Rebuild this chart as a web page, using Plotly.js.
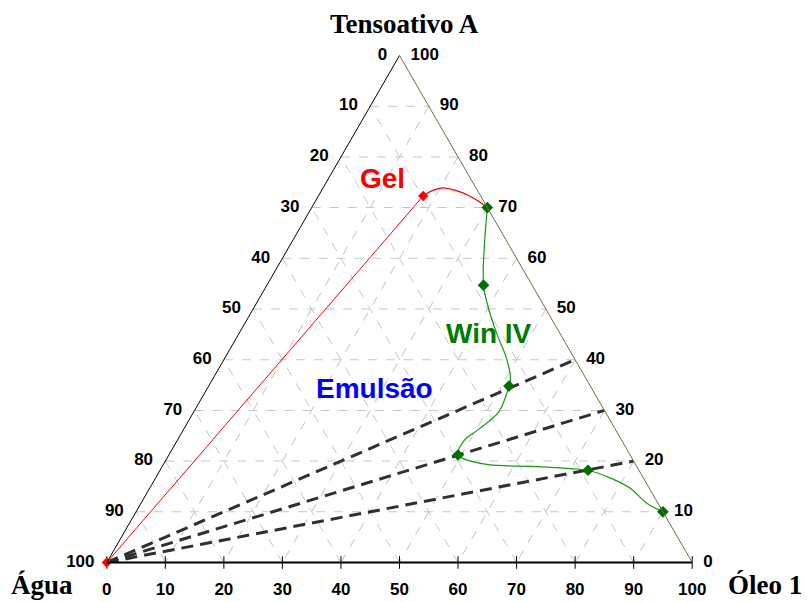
<!DOCTYPE html>
<html>
<head>
<meta charset="utf-8">
<script src="https://cdn.plot.ly/plotly-3.0.1.min.js"></script>
<style>html,body{margin:0;padding:0;background:#fff;}#chart{width:807px;height:602px;}</style>
</head>
<body>
<div id="chart"></div>
<script>
// ---- data (percent) ----
const cornerTitles = ['Tensoativo A', 'Água', 'Óleo 1'];
const tickVals = [0, 10, 20, 30, 40, 50, 60, 70, 80, 90, 100];
const tickLabels = ['0', '10', '20', '30', '40', '50', '60', '70', '80', '90', '100'];

// dashed lines from the water corner to the oil/surfactant side
const tieTensoativo = [[0, 40], [0, 30], [0, 20]];
const tieAgua = [[100, 0], [100, 0], [100, 0]];
const tieOleo = [[0, 60], [0, 70], [0, 80]];

// Gel boundary (red)
const gelLineTensoativo = [0, 72.3];
const gelLineAgua = [100, 9.8];
const gelLineOleo = [0, 17.9];
const gelCurveTensoativo = [72.3, 73.4, 73.9, 73.4, 72.4, 71.3, 70];
const gelCurveAgua = [9.8, 7.6, 5.7, 3.7, 2.0, 0.9, 0];
const gelCurveOleo = [17.9, 19.0, 20.4, 22.9, 25.6, 27.8, 30];

// Winsor IV boundary (green): measured points
const winTensoativo = [70, 54.7, 34.8, 21.2, 18.2, 10];
const winAgua = [0, 8.3, 13.9, 29.4, 8.7, 0];
const winOleo = [30, 37.0, 51.3, 49.4, 73.1, 90];
// Winsor IV boundary: points along the drawn curve
const winCurveTensoativo = [70, 54.7, 50.2, 45.2, 40.2, 36.3, 34.8, 29.7, 26.3, 24.0, 21.2, 20.3, 19.3, 18.9, 18.5, 18.2, 16.7, 14.7, 11.7, 10];
const winCurveAgua = [0, 8.3, 9.7, 10.8, 11.6, 12.9, 13.9, 18.2, 23.3, 27.0, 29.4, 28.5, 25.1, 16.9, 11.5, 8.7, 5.7, 3.3, 1.9, 0];
const winCurveOleo = [30, 37.0, 40.1, 44.0, 48.2, 50.8, 51.3, 52.1, 50.4, 49.0, 49.4, 51.2, 55.6, 64.2, 70.0, 73.1, 77.6, 82.0, 86.4, 90];

const regionLabels = ['Gel', 'Win IV', 'Emulsão'];

// ---- traces ----
const traces = [];
for (let i = 0; i < tieTensoativo.length; i++) {
  traces.push({
    type: 'scatterternary', mode: 'lines',
    a: tieTensoativo[i], b: tieAgua[i], c: tieOleo[i],
    line: {color: '#303030', width: 3, dash: '12px,7px'},
    hoverinfo: 'skip', cliponaxis: false
  });
}
// visible short ticks on the bottom side
traces.push({
  type: 'scatterternary', mode: 'markers',
  a: tickVals.map(() => 0), b: tickVals.map(v => 100 - v), c: tickVals,
  marker: {symbol: 'line-ns-open', size: 9, color: '#000', line: {color: '#000', width: 1}},
  hoverinfo: 'skip', cliponaxis: false
});

const tickFont = {family: 'Liberation Sans, Arial, sans-serif', size: 17, color: '#000', weight: 'bold'};
// tick labels drawn at the edge points through the ternary scales
// right side: Tensoativo A
traces.push({
  type: 'scatterternary', mode: 'markers+text',
  a: tickVals, b: tickVals.map(() => 0), c: tickVals.map(v => 100 - v),
  text: tickLabels, textposition: 'middle right', textfont: tickFont,
  marker: {size: 16, opacity: 0}, hoverinfo: 'skip', cliponaxis: false
});
// left side: Água
traces.push({
  type: 'scatterternary', mode: 'markers+text',
  a: tickVals.map(v => 100 - v), b: tickVals, c: tickVals.map(() => 0),
  text: tickLabels, textposition: 'middle left', textfont: tickFont,
  marker: {size: 18, opacity: 0}, hoverinfo: 'skip', cliponaxis: false
});
// bottom side: Óleo 1
traces.push({
  type: 'scatterternary', mode: 'markers+text',
  a: tickVals.map(() => 0), b: tickVals.map(v => 100 - v), c: tickVals,
  text: tickLabels, textposition: 'bottom center', textfont: tickFont,
  marker: {size: 30, opacity: 0}, hoverinfo: 'skip', cliponaxis: false
});

traces.push({
  type: 'scatterternary', mode: 'lines+markers',
  a: gelLineTensoativo, b: gelLineAgua, c: gelLineOleo,
  line: {color: '#ff0000', width: 1},
  marker: {color: '#ff0000', size: 8, symbol: 'diamond'},
  cliponaxis: false
});
traces.push({
  type: 'scatterternary', mode: 'lines',
  a: gelCurveTensoativo, b: gelCurveAgua, c: gelCurveOleo,
  line: {color: '#ff0000', width: 1.2, shape: 'spline', smoothing: 1},
  cliponaxis: false
});
traces.push({
  type: 'scatterternary', mode: 'lines',
  a: winCurveTensoativo, b: winCurveAgua, c: winCurveOleo,
  line: {color: '#1a961a', width: 1.2, shape: 'spline', smoothing: 1},
  cliponaxis: false
});
traces.push({
  type: 'scatterternary', mode: 'markers',
  a: winTensoativo, b: winAgua, c: winOleo,
  marker: {color: '#006e00', size: 9, symbol: 'diamond'},
  cliponaxis: false
});

const gridStyle = {showgrid: true, gridcolor: '#c6c6c6', gridwidth: 1, griddash: 'dash'};
const axisBase = {tickmode: 'array', tickvals: tickVals, showticklabels: false, ticks: '', title: {text: ''}, showline: true};

const titleFont = {family: 'Liberation Serif, Times New Roman, serif', size: 27, color: '#000', weight: 'bold'};
const regionFont = (c) => ({family: 'Liberation Sans, Arial, sans-serif', size: 28, color: c, weight: 'bold'});

const layout = {
  width: 807, height: 602,
  margin: {l: 0, r: 0, t: 0, b: 0},
  paper_bgcolor: '#ffffff',
  showlegend: false,
  ternary: {
    sum: 100,
    domain: {x: [0, 799 / 807], y: [39.5 / 602, 546.5 / 602]},
    bgcolor: '#ffffff',
    aaxis: Object.assign({}, axisBase, gridStyle, {linecolor: '#000', linewidth: 1}),
    baxis: Object.assign({}, axisBase, gridStyle, {linecolor: '#000', linewidth: 2}),
    caxis: Object.assign({}, axisBase, gridStyle, {linecolor: '#6e6e3c', linewidth: 1})
  },
  annotations: [
    {text: cornerTitles[0], x: 405 / 807, y: 1 - 24 / 602, xanchor: 'center', yanchor: 'middle', font: titleFont},
    {text: cornerTitles[1], x: 42 / 807, y: 0.001, xanchor: 'center', yanchor: 'bottom', font: titleFont},
    {text: cornerTitles[2], x: 765 / 807, y: 0.001, xanchor: 'center', yanchor: 'bottom', font: titleFont},
    {text: regionLabels[0], x: 382 / 807, y: 1 - 178 / 602, xanchor: 'center', yanchor: 'middle', font: regionFont('#ff0000')},
    {text: regionLabels[1], x: 489 / 807, y: 1 - 333 / 602, xanchor: 'center', yanchor: 'middle', font: regionFont('#007a00')},
    {text: regionLabels[2], x: 374 / 807, y: 1 - 388 / 602, xanchor: 'center', yanchor: 'middle', font: regionFont('#0000ff')}
  ].map(o => Object.assign(o, {xref: 'paper', yref: 'paper', showarrow: false, borderpad: 0}))
};

Plotly.newPlot('chart', traces, layout, {staticPlot: true, displayModeBar: false});
</script>
</body>
</html>
